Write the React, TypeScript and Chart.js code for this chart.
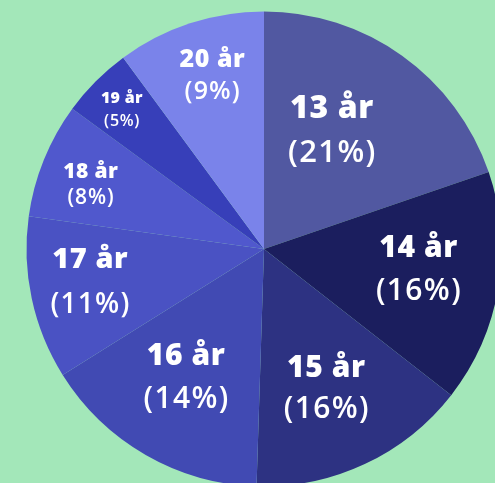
import React, { useEffect, useRef } from "react";
import { Chart, registerables } from "chart.js";

Chart.register(...registerables);

const categories = ["13 år", "14 år", "15 år", "16 år", "17 år", "18 år", "19 år", "20 år"];
const sliceValues = [19.75, 15.8, 14.95, 15.6, 11.1, 7.85, 4.85, 10.1];
const percentLabels = ["21%", "16%", "16%", "14%", "11%", "8%", "5%", "9%"];

const sliceColors = ["#5158a1", "#1b1e5e", "#2d3282", "#414ab3", "#4a52c3", "#5058cd", "#373fb9", "#7a83ea"];
const BG = "#a3e7b9";

// label styling: [size line1, size line2, line gap, radius fraction, angle offset (deg)]
const labelStyle = [
  [32, 31, 46, 0.578, -6.0],
  [30, 30, 45, 0.655, -2.3],
  [30, 30, 43, 0.64, 1.0],
  [30, 30, 45, 0.63, 1.6],
  [29, 28, 47, 0.745, 1.7],
  [21, 21, 28, 0.78, -1.5],
  [16, 16, 23.5, 0.84, -0.4],
  [25, 25, 33, 0.765, 1.6],
];

const FONT = "'Open Sans', Lato, sans-serif";

const labelPlugin = {
  id: "sliceLabels",
  afterDatasetsDraw(chart: any) {
    const ctx = chart.ctx;
    const meta = chart.getDatasetMeta(0);
    meta.data.forEach((arc: any, i: number) => {
      const p = arc.getProps(["x", "y", "startAngle", "endAngle", "outerRadius"], true);
      const [f1, f2, gap, rf, off] = labelStyle[i];
      const mid = (p.startAngle + p.endAngle) / 2 + (off * Math.PI) / 180;
      const r = p.outerRadius * rf;
      const cx = p.x + Math.cos(mid) * r;
      const cy = p.y + Math.sin(mid) * r;
      ctx.save();
      ctx.fillStyle = "#ffffff";
      ctx.textAlign = "center";
      ctx.textBaseline = "alphabetic";
      ctx.font = `800 ${f1}px ${FONT}`;
      const ls1 = f1 * 0.02;
      (ctx as any).letterSpacing = `${ls1}px`;
      ctx.fillText(categories[i], cx + ls1 / 2, cy - gap / 2 + f1 * 0.36);
      ctx.font = `600 ${f2}px ${FONT}`;
      const ls2 = f2 * 0.045;
      (ctx as any).letterSpacing = `${ls2}px`;
      ctx.textBaseline = "middle";
      ctx.fillText(`(${percentLabels[i]})`, cx + ls2 / 2, cy + gap / 2 + f2 * 0.02);
      ctx.restore();
    });
  },
};

export default function App() {
  const ref = useRef<HTMLCanvasElement | null>(null);
  useEffect(() => {
    if (!ref.current) return;
    const chart = new Chart(ref.current, {
      type: "pie",
      data: {
        labels: categories,
        datasets: [
          {
            data: sliceValues,
            backgroundColor: sliceColors,
            borderWidth: 0,
          },
        ],
      },
      options: {
        responsive: false,
        animation: false,
        devicePixelRatio: 1,
        layout: { padding: { left: 26.5, right: 26.5, top: 11.5, bottom: 11.5 } },
        plugins: {
          legend: { display: false },
          tooltip: { enabled: false },
          title: { display: false },
        },
      },
      plugins: [labelPlugin],
    });
    return () => chart.destroy();
  }, []);
  return (
    <div
      style={{
        position: "fixed",
        top: 0,
        left: 0,
        width: 495,
        height: 483,
        overflow: "hidden",
        background: BG,
      }}
    >
      <canvas ref={ref} width={528} height={498} style={{ display: "block" }} />
    </div>
  );
}
